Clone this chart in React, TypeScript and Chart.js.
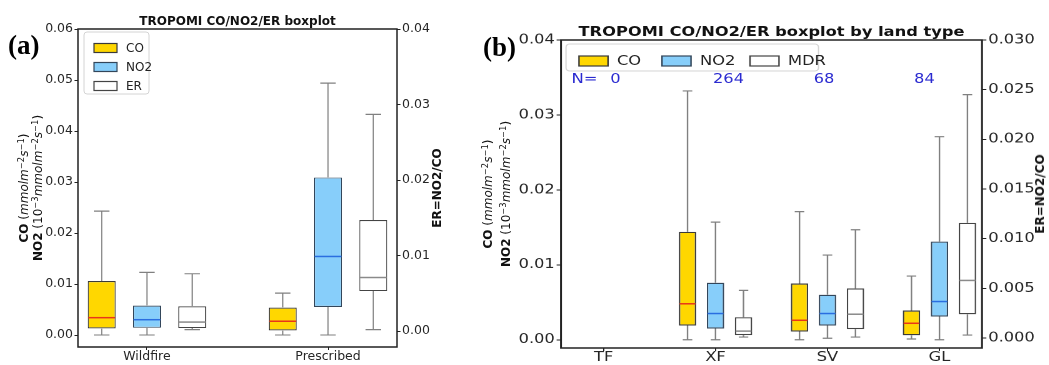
import React, { useEffect, useRef } from "react";
import { Chart, registerables } from "chart.js";

Chart.register(...registerables);

// ---------------- Panel (a) data ----------------
const categoriesA = ["Wildfire", "Prescribed"];
const positionsA = [1, 2];
const coLowA = [0.0, 0.0];
const coQ1A = [0.0013, 0.0009];
const coMedA = [0.0034, 0.0027];
const coQ3A = [0.0106, 0.0054];
const coHighA = [0.0243, 0.0082];
const no2LowA = [0.0, 0.0];
const no2Q1A = [0.0014, 0.0055];
const no2MedA = [0.003, 0.0154];
const no2Q3A = [0.0058, 0.0309];
const no2HighA = [0.0123, 0.0494];
const erLowA = [0.0002, 0.0002];
const erQ1A = [0.0004, 0.0053];
const erMedA = [0.0012, 0.0071];
const erQ3A = [0.0033, 0.0147];
const erHighA = [0.0076, 0.0287];
const leftTicksA = [0, 0.01, 0.02, 0.03, 0.04, 0.05, 0.06];
const rightTicksA = [0, 0.01, 0.02, 0.03, 0.04];

// ---------------- Panel (b) data ----------------
const categoriesB = ["TF", "XF", "SV", "GL"];
const positionsB = [1, 2, 3, 4];
const coLowB = [null, 0.0, 0.0, 0.0001];
const coQ1B = [null, 0.0019, 0.0011, 0.0006];
const coMedB = [null, 0.0048, 0.0026, 0.0022];
const coQ3B = [null, 0.0144, 0.0075, 0.0039];
const coHighB = [null, 0.0332, 0.0171, 0.0085];
const no2LowB = [null, 0.0, 0.0002, 0.0];
const no2Q1B = [null, 0.0015, 0.0019, 0.0031];
const no2MedB = [null, 0.0035, 0.0035, 0.0051];
const no2Q3B = [null, 0.0076, 0.006, 0.0131];
const no2HighB = [null, 0.0157, 0.0113, 0.0271];
const mdrLowB = [null, 0.0001, 0.0001, 0.0003];
const mdrQ1B = [null, 0.0003, 0.0009, 0.0024];
const mdrMedB = [null, 0.0007, 0.0024, 0.0058];
const mdrQ3B = [null, 0.0021, 0.005, 0.0116];
const mdrHighB = [null, 0.0048, 0.0109, 0.0245];
const nCountsB = ["0", "264", "68", "84"];
const leftTicksB = [0, 0.01, 0.02, 0.03, 0.04];
const rightTicksB = [0, 0.005, 0.01, 0.015, 0.02, 0.025, 0.03];

// ---------------- styles ----------------
const CO_FILL = "#FFD700";
const NO2_FILL = "#87CEFA";
const ER_FILL = "#FFFFFF";
const CO_EDGE = "#3a3a3a";
const NO2_EDGE = "#33465a";
const ER_EDGE = "#444444";
const CO_MED = "#e8361a";
const NO2_MED = "#2a6ee0";
const ER_MED = "#8a8a8a";
const WHISKER = "#808080";
const FONT = '"DejaVu Sans", sans-serif';

type Arr = (number | null)[];
type Series = {
  name: string;
  low: Arr; q1: Arr; med: Arr; q3: Arr; high: Arr;
  fill: string; edge: string; median: string;
  axis: "y" | "y2"; offset: number;
};
type AxisSpec = { min: number; max: number; ticks: number[]; decimals: number };
type Spec = {
  width: number; height: number; dpr: number;
  positions: number[]; categories: string[];
  xMin: number; xMax: number;
  series: Series[];
  left: AxisSpec; right: AxisSpec;
  area: { left: number; right: number; top: number; bottom: number };
  tickFont: number;
  title: string; titleFont: number;
  legend: { x: number; y: number; w: number; h: number; font: number; patchW: number; patchH: number; items: { px: number; py: number; tx: number }[] };
  nText?: { label: string; labelX: number; counts: string[]; xs: number[]; y: number; font: number; color: string };
};

const specA: Spec = {
  width: 470, height: 365, dpr: 1,
  positions: positionsA, categories: categoriesA,
  xMin: 0.619, xMax: 2.381,
  series: [
    { name: "CO", low: coLowA, q1: coQ1A, med: coMedA, q3: coQ3A, high: coHighA, fill: CO_FILL, edge: CO_EDGE, median: CO_MED, axis: "y", offset: -0.25 },
    { name: "NO2", low: no2LowA, q1: no2Q1A, med: no2MedA, q3: no2Q3A, high: no2HighA, fill: NO2_FILL, edge: NO2_EDGE, median: NO2_MED, axis: "y", offset: 0 },
    { name: "ER", low: erLowA, q1: erQ1A, med: erMedA, q3: erQ3A, high: erHighA, fill: ER_FILL, edge: ER_EDGE, median: ER_MED, axis: "y2", offset: 0.25 },
  ],
  left: { min: -0.00235, max: 0.06, ticks: leftTicksA, decimals: 2 },
  right: { min: -0.0021, max: 0.04, ticks: rightTicksA, decimals: 2 },
  area: { left: 78, right: 73, top: 29, bottom: 18 },
  tickFont: 12.5,
  title: "TROPOMI CO/NO2/ER boxplot", titleFont: 12,
  legend: {
    x: 6, y: 3, w: 65, h: 62, font: 12, patchW: 23, patchH: 9,
    items: [{ px: 10, py: 16, tx: 42 }, { px: 10, py: 35, tx: 42 }, { px: 10, py: 54, tx: 42 }],
  },
};

const SX = 1.25;
const specB: Spec = {
  width: 463, height: 365, dpr: 2,
  positions: positionsB, categories: categoriesB,
  xMin: 0.62, xMax: 4.38,
  series: [
    { name: "CO", low: coLowB, q1: coQ1B, med: coMedB, q3: coQ3B, high: coHighB, fill: CO_FILL, edge: CO_EDGE, median: CO_MED, axis: "y", offset: -0.25 },
    { name: "NO2", low: no2LowB, q1: no2Q1B, med: no2MedB, q3: no2Q3B, high: no2HighB, fill: NO2_FILL, edge: NO2_EDGE, median: NO2_MED, axis: "y", offset: 0 },
    { name: "MDR", low: mdrLowB, q1: mdrQ1B, med: mdrMedB, q3: mdrQ3B, high: mdrHighB, fill: ER_FILL, edge: ER_EDGE, median: ER_MED, axis: "y2", offset: 0.25 },
  ],
  left: { min: -0.0011, max: 0.04, ticks: leftTicksB, decimals: 2 },
  right: { min: -0.001, max: 0.03, ticks: rightTicksB, decimals: 3 },
  area: { left: 72.8, right: 53.4, top: 40, bottom: 17 },
  tickFont: 13,
  title: "TROPOMI CO/NO2/ER boxplot by land type", titleFont: 13,
  legend: {
    x: 4, y: 4, w: 202, h: 27, font: 13, patchW: 23.2, patchH: 10,
    items: [{ px: 10.4, py: 17, tx: 40.8 }, { px: 76.8, py: 17, tx: 107.2 }, { px: 147.2, py: 17, tx: 177.6 }],
  },
  nText: { label: "N=", labelX: 0.83, counts: nCountsB, xs: [1.107, 2.116, 2.97, 3.866], y: 0.0347, font: 13, color: "#2a2ad0" },
};

function makePlugin(spec: Spec) {
  return {
    id: "boxExtras",
    afterDatasetsDraw(chart: any) {
      const ctx = chart.ctx;
      const xs = chart.scales.x;
      ctx.save();
      spec.series.forEach((s, si) => {
        const ys = chart.scales[s.axis];
        const meta = chart.getDatasetMeta(si);
        let k = 0;
        spec.positions.forEach((p, i) => {
          if (s.q1[i] == null) return;
          const bar = meta.data[k++];
          const w = bar.width;
          const cx = xs.getPixelForValue(p + s.offset);
          const yLow = ys.getPixelForValue(s.low[i]);
          const yQ1 = ys.getPixelForValue(s.q1[i]);
          const yMed = ys.getPixelForValue(s.med[i]);
          const yQ3 = ys.getPixelForValue(s.q3[i]);
          const yHigh = ys.getPixelForValue(s.high[i]);
          const cap = w * 0.55;
          ctx.strokeStyle = WHISKER;
          ctx.lineWidth = 1.2;
          ctx.beginPath();
          ctx.moveTo(cx, yQ3); ctx.lineTo(cx, yHigh);
          ctx.moveTo(cx, yQ1); ctx.lineTo(cx, yLow);
          ctx.moveTo(cx - cap / 2, yHigh); ctx.lineTo(cx + cap / 2, yHigh);
          ctx.moveTo(cx - cap / 2, yLow); ctx.lineTo(cx + cap / 2, yLow);
          ctx.stroke();
          ctx.strokeStyle = s.median;
          ctx.lineWidth = 1.5;
          ctx.beginPath();
          ctx.moveTo(cx - w / 2 + 0.6, yMed); ctx.lineTo(cx + w / 2 - 0.6, yMed);
          ctx.stroke();
        });
      });
      ctx.restore();
    },
    afterDraw(chart: any) {
      const ctx = chart.ctx;
      const ca = chart.chartArea;
      ctx.save();
      // frame
      ctx.strokeStyle = "#222";
      ctx.lineWidth = 1.5;
      ctx.strokeRect(ca.left, ca.top, ca.right - ca.left, ca.bottom - ca.top);
      // title
      ctx.fillStyle = "#111";
      ctx.font = `bold ${spec.titleFont}px ${FONT}`;
      ctx.textAlign = "center";
      ctx.textBaseline = "alphabetic";
      ctx.fillText(spec.title, (ca.left + ca.right) / 2, ca.top - 4);
      // legend
      const L = spec.legend;
      const lx = ca.left + L.x, ly = ca.top + L.y;
      ctx.fillStyle = "rgba(255,255,255,0.85)";
      ctx.strokeStyle = "#d4d4d4";
      ctx.lineWidth = 1;
      ctx.beginPath();
      if (ctx.roundRect) ctx.roundRect(lx, ly, L.w, L.h, 3); else ctx.rect(lx, ly, L.w, L.h);
      ctx.fill();
      ctx.stroke();
      ctx.font = `${L.font}px ${FONT}`;
      ctx.textAlign = "left";
      ctx.textBaseline = "middle";
      spec.series.forEach((s, i) => {
        const it = L.items[i];
        ctx.fillStyle = s.fill;
        ctx.fillRect(lx + it.px, ly + it.py - L.patchH / 2, L.patchW, L.patchH);
        ctx.strokeStyle = s.edge;
        ctx.lineWidth = 1.2;
        ctx.strokeRect(lx + it.px, ly + it.py - L.patchH / 2, L.patchW, L.patchH);
        ctx.fillStyle = "#222";
        ctx.fillText(s.name, lx + it.tx, ly + it.py + 0.5);
      });
      // N counts
      if (spec.nText) {
        const n = spec.nText;
        const xs = chart.scales.x;
        const yy = chart.scales.y.getPixelForValue(n.y);
        ctx.fillStyle = n.color;
        ctx.font = `${n.font}px ${FONT}`;
        ctx.textAlign = "center";
        ctx.fillText(n.label, xs.getPixelForValue(n.labelX), yy);
        n.counts.forEach((c, i) => ctx.fillText(c, xs.getPixelForValue(n.xs[i]), yy));
      }
      ctx.restore();
    },
  };
}

function buildChart(canvas: HTMLCanvasElement, spec: Spec) {
  const tickColor = "#262626";
  const font = { family: FONT, size: spec.tickFont, lineHeight: 1 };
  const grid = { display: true, drawOnChartArea: false, drawTicks: true, tickLength: 3.5, tickWidth: 1, tickColor: "#222", color: "#222" };
  const datasets = spec.series.map((s) => ({
    type: "bar" as const,
    label: s.name,
    data: spec.positions
      .map((p, i) => (s.q1[i] == null ? null : { x: p + s.offset, y: [s.q1[i], s.q3[i]] }))
      .filter((d) => d !== null),
    backgroundColor: s.fill,
    borderColor: s.edge,
    borderWidth: 1.2,
    borderSkipped: false,
    grouped: false,
    barPercentage: 0.62,
    categoryPercentage: 1,
    yAxisID: s.axis,
  }));
  const yAxis = (a: AxisSpec, pos: "left" | "right", w: number) => ({
    type: "linear",
    position: pos,
    min: a.min,
    max: a.max,
    afterFit: (sc: any) => { sc.width = w; },
    afterBuildTicks: (sc: any) => { sc.ticks = a.ticks.map((v) => ({ value: v })); },
    ticks: { callback: (v: any) => Number(v).toFixed(a.decimals), font, color: tickColor, padding: 1.5 },
    grid,
    border: { display: false },
  });
  return new Chart(canvas, {
    type: "bar",
    data: { datasets } as any,
    options: {
      animation: false,
      responsive: false,
      devicePixelRatio: spec.dpr,
      events: [],
      layout: { padding: { left: 0, right: 0, top: spec.area.top, bottom: 0 } },
      plugins: { legend: { display: false }, tooltip: { enabled: false }, title: { display: false } },
      scales: {
        x: {
          type: "linear",
          min: spec.xMin,
          max: spec.xMax,
          offset: false,
          afterFit: (sc: any) => { sc.height = spec.area.bottom; },
          afterBuildTicks: (sc: any) => { sc.ticks = spec.positions.map((v) => ({ value: v })); },
          ticks: { callback: (_v: any, i: number) => spec.categories[i], font, color: tickColor, padding: 0, autoSkip: false, maxRotation: 0, minRotation: 0 },
          grid: { ...grid, offset: false, tickLength: 3 },
          border: { display: false },
        },
        y: yAxis(spec.left, "left", spec.area.left),
        y2: yAxis(spec.right, "right", spec.area.right),
      } as any,
    },
    plugins: [makePlugin(spec) as any],
  });
}

const supStyle: React.CSSProperties = { fontSize: "0.7em", verticalAlign: "0.45em", lineHeight: 0 };

function Rot(props: { x: number; y: number; size: number; bold?: boolean; children: React.ReactNode }) {
  return (
    <div
      style={{
        position: "absolute",
        left: props.x,
        top: props.y,
        transform: "translate(-50%, -50%) rotate(-90deg)",
        whiteSpace: "nowrap",
        lineHeight: 1,
        fontFamily: FONT,
        fontSize: props.size,
        fontWeight: props.bold ? "bold" : "normal",
        color: "#111",
      }}
    >
      {props.children}
    </div>
  );
}

const CoUnit = () => (
  <>
    <b>CO</b> (<i>mmolm</i>
    <sup style={supStyle}>−2</sup>
    <i>s</i>
    <sup style={supStyle}>−1</sup>)
  </>
);
const No2Unit = () => (
  <>
    <b>NO2</b> (10<sup style={supStyle}>−3</sup>
    <i>mmolm</i>
    <sup style={supStyle}>−2</sup>
    <i>s</i>
    <sup style={supStyle}>−1</sup>)
  </>
);

export default function App() {
  const refA = useRef<HTMLCanvasElement>(null);
  const refB = useRef<HTMLCanvasElement>(null);
  useEffect(() => {
    const a = buildChart(refA.current!, specA);
    const b = buildChart(refB.current!, specB);
    return () => {
      a.destroy();
      b.destroy();
    };
  }, []);
  const panelLabel: React.CSSProperties = {
    position: "absolute",
    fontFamily: '"Liberation Serif", "Times New Roman", serif',
    fontWeight: "bold",
    fontSize: 27,
    lineHeight: 1,
    color: "#000",
  };
  return (
    <div style={{ position: "fixed", left: 0, top: 0, width: 1049, height: 365, background: "#fff", overflow: "hidden" }}>
      <canvas ref={refA} width={specA.width} height={specA.height} style={{ position: "absolute", left: 0, top: 0 }} />
      <div
        style={{
          position: "absolute",
          left: 470,
          top: 0,
          width: specB.width,
          height: specB.height,
          transform: `scaleX(${SX})`,
          transformOrigin: "0 0",
        }}
      >
        <canvas ref={refB} width={specB.width} height={specB.height} />
      </div>
      <div style={{ ...panelLabel, left: 8, top: 32 }}>(a)</div>
      <div style={{ ...panelLabel, left: 483, top: 34 }}>(b)</div>
      <Rot x={24} y={188} size={12}><CoUnit /></Rot>
      <Rot x={38} y={188} size={12}><No2Unit /></Rot>
      <Rot x={437} y={188} size={12} bold>ER=NO2/CO</Rot>
      <Rot x={488} y={194} size={12}><CoUnit /></Rot>
      <Rot x={506} y={194} size={12}><No2Unit /></Rot>
      <Rot x={1040} y={194} size={12} bold>ER=NO2/CO</Rot>
    </div>
  );
}
